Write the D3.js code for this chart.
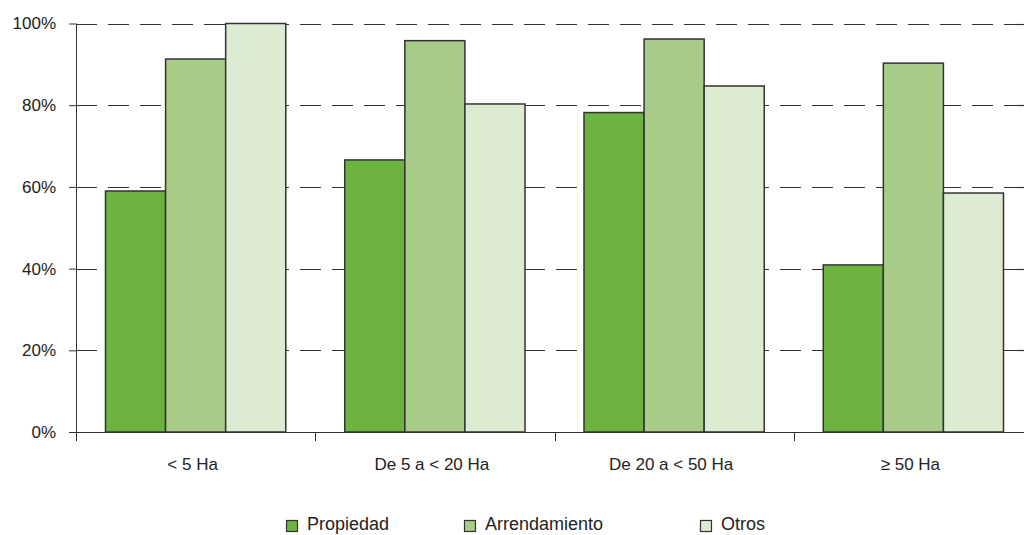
<!DOCTYPE html>
<html><head><meta charset="utf-8">
<script src="https://cdn.jsdelivr.net/npm/d3@7"></script>
<style>
html,body{margin:0;padding:0;background:#fff;}
svg{display:block;font-family:"Liberation Sans",Arial,sans-serif;}
</style></head>
<body>
<svg id="chart" width="1024" height="535"></svg>
<script>
const categories = ["< 5 Ha", "De 5 a < 20 Ha", "De 20 a < 50 Ha", "≥ 50 Ha"];
const seriesNames = ["Propiedad", "Arrendamiento", "Otros"];
const propiedad = [59.0, 66.6, 78.2, 40.9];
const arrendamiento = [91.3, 95.8, 96.2, 90.3];
const otros = [100, 80.3, 84.7, 58.5];
const yTicks = [0, 20, 40, 60, 80, 100];
const colors = ["#6db33f", "#a8cc88", "#deebd3"];

const seriesValues = [propiedad, arrendamiento, otros];
const svg = d3.select("#chart");
const W = 1024, H = 535;
const mLeft = 76, mRight = 1033, mTop = 23.5, mBottom = 432;

const x0 = d3.scaleBand().domain(categories).range([mLeft, mRight]).padding(0);
const bw = x0.bandwidth();
const x1 = d3.scaleBand().domain(seriesNames).range([29.5, bw - 29.5]).padding(0);
const y = d3.scaleLinear().domain([0, 100]).range([mBottom, mTop]);

// gridlines
svg.append("g").selectAll("line").data(yTicks.filter(d => d > 0)).join("line")
  .attr("x1", mLeft).attr("x2", W)
  .attr("y1", d => Math.round(y(d)) + 0.5).attr("y2", d => Math.round(y(d)) + 0.5)
  .attr("stroke", "#333").attr("stroke-width", 1.2).attr("stroke-dasharray", "21,11");

// bars
const groups = svg.append("g").selectAll("g").data(categories).join("g")
  .attr("transform", c => `translate(${x0(c)},0)`);
groups.selectAll("rect").data((c, i) => seriesNames.map((s, j) => ({s, v: seriesValues[j][i], j})))
  .join("rect")
  .attr("x", d => x1(d.s)).attr("width", x1.bandwidth())
  .attr("y", d => y(d.v)).attr("height", d => y(0) - y(d.v))
  .attr("fill", d => colors[d.j]).attr("stroke", "#333").attr("stroke-width", 1.5);

// y axis
const yAxis = svg.append("g").attr("transform", `translate(${mLeft},0)`)
  .call(d3.axisLeft(y).tickValues(yTicks).tickSize(7).tickPadding(13).tickFormat(d => d + "%"));
yAxis.select(".domain").attr("d", `M0.5,${mTop}V${mBottom + 9}`).attr("stroke", "#333");
yAxis.selectAll(".tick line").attr("stroke", "#333");
yAxis.selectAll(".tick text").attr("font-size", 17).attr("fill", "#222")
  .attr("font-family", "Liberation Sans, Arial, sans-serif");

// x axis
const xg = svg.append("g");
xg.append("line").attr("x1", mLeft - 7).attr("x2", W).attr("y1", mBottom + 0.5).attr("y2", mBottom + 0.5)
  .attr("stroke", "#333").attr("stroke-width", 1.2);
const tickPos = categories.map(c => x0(c));
xg.selectAll("line.t").data(tickPos).join("line").attr("class", "t")
  .attr("x1", d => Math.round(d) + 0.5).attr("x2", d => Math.round(d) + 0.5)
  .attr("y1", mBottom).attr("y2", mBottom + 9).attr("stroke", "#333");
xg.selectAll("text").data(categories).join("text")
  .attr("x", c => x0(c) + bw / 2 - 3).attr("y", 470)
  .attr("text-anchor", "middle").attr("font-size", 17).attr("fill", "#222")
  .text(c => c);

// legend
const legX = [286, 464, 700];
const leg = svg.append("g").selectAll("g").data(seriesNames).join("g")
  .attr("transform", (d, i) => `translate(${legX[i]},0)`);
leg.append("rect").attr("x", 0.5).attr("y", 520.5).attr("width", 11).attr("height", 11)
  .attr("fill", (d, i) => colors[i]).attr("stroke", "#333").attr("stroke-width", 1.2);
leg.append("text").attr("x", 21).attr("y", 530).attr("font-size", 18).attr("fill", "#222")
  .text(d => d);
</script>
</body></html>
